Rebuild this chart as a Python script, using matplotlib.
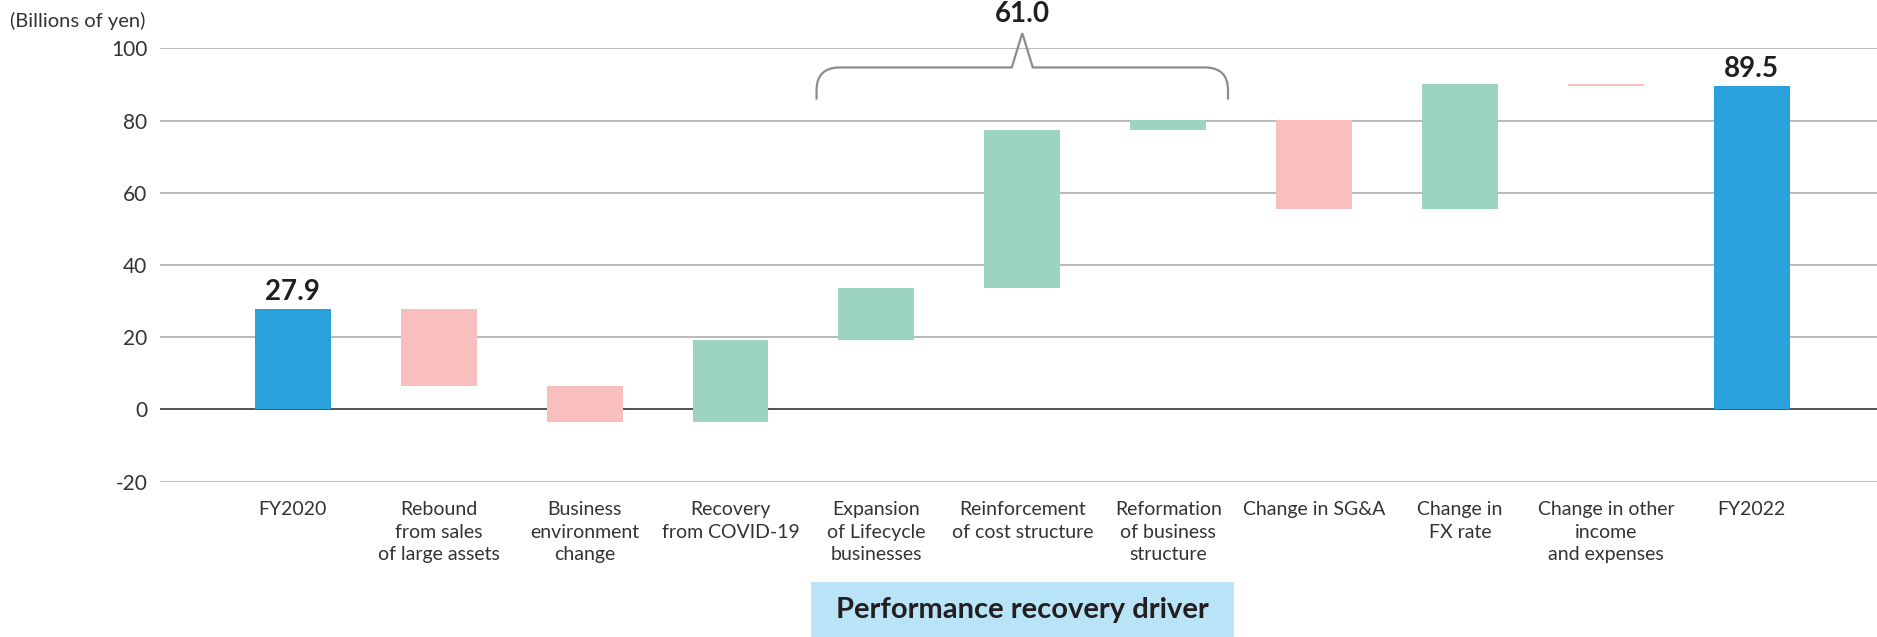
import numpy as np
import matplotlib
matplotlib.use("Agg")
import matplotlib.pyplot as plt
from matplotlib.path import Path
from matplotlib.patches import PathPatch, Rectangle
import matplotlib.transforms as mtransforms

plt.rcParams['font.family'] = ['Lato', 'DejaVu Sans']

# data (billions of yen)
categories = ["FY2020", "Rebound\nfrom sales\nof large assets", "Business\nenvironment\nchange",
              "Recovery\nfrom COVID-19", "Expansion\nof Lifecycle\nbusinesses",
              "Reinforcement\nof cost structure", "Reformation\nof business\nstructure",
              "Change in SG&A", "Change in\nFX rate", "Change in other\nincome\nand expenses", "FY2022"]
changes = [27.9, -21.3, -10.1, 22.7, 14.3, 44.0, 2.7, -24.7, 34.5, -0.5, 89.5]
is_total = [True, False, False, False, False, False, False, False, False, False, True]
bracket_group = [4, 5, 6]   # "Performance recovery driver" items
y_ticks = [-20, 0, 20, 40, 60, 80, 100]

BLUE = '#29a2dc'
PINK = '#f8bfbe'
GREEN = '#9bd5c1'
TXT = '#231f20'

fig = plt.figure(figsize=(18.77, 6.37), dpi=100)
ax = fig.add_axes([160 / 1877, 1 - 481.7 / 637, 1 - 160 / 1877, (481.7 - 48.3) / 637])

x = np.arange(len(categories))
bottoms, heights, colors = [], [], []
level = 0.0
for c, tot in zip(changes, is_total):
    if tot:
        bottoms.append(0)
        heights.append(c)
        colors.append(BLUE)
        level = c
    else:
        bottoms.append(level if c > 0 else level + c)
        heights.append(abs(c))
        colors.append(GREEN if c > 0 else PINK)
        level += c

ax.bar(x, heights, bottom=bottoms, width=0.52, color=colors, zorder=3)

# totals labels
for i, (c, tot) in enumerate(zip(changes, is_total)):
    if tot:
        ax.annotate(f"{c:.1f}", (i, c), xytext=(0, 3), textcoords='offset points',
                    ha='center', va='bottom', fontsize=20, fontweight='bold', color=TXT)

# grid lines
for t in y_ticks:
    ax.axhline(t, color='#444444' if t == 0 else '#b4b4b4', lw=1.3, zorder=1)

ax.set_xlim(-0.91, 10.858)
ax.set_ylim(-20, 100)
ax.set_yticks(y_ticks)
ax.set_yticklabels([str(t) for t in y_ticks], fontsize=15, color='#333333')
ax.set_xticks(x)
ax.set_xticklabels(categories, fontsize=14, color='#333333', linespacing=1.4, va='top')
ax.tick_params(axis='y', length=0, pad=9)
ax.tick_params(axis='x', length=0, pad=14)
for s in ax.spines.values():
    s.set_visible(False)

fig.text(10 / 1877, 1 - 21 / 637, "(Billions of yen)", fontsize=14.5, color='#333333', va='center')

# bracket over the performance recovery drivers
mid = bracket_group[1]
xl, xr = mid - 1.41, mid + 1.41
yb, yh, yp = 85.8, 94.7, 104.2
rx, ry = 0.16, 6.3
hw = 0.072
verts = [(xl, yb), (xl, yh - ry), (xl, yh), (xl + rx, yh), (mid - hw, yh), (mid, yp),
         (mid + hw, yh), (xr - rx, yh), (xr, yh), (xr, yh - ry), (xr, yb)]
codes = [Path.MOVETO, Path.LINETO, Path.CURVE3, Path.CURVE3, Path.LINETO, Path.LINETO,
         Path.LINETO, Path.LINETO, Path.CURVE3, Path.CURVE3, Path.LINETO]
ax.add_patch(PathPatch(Path(verts, codes), fill=False, edgecolor='#8c8c8c', lw=1.6,
                       clip_on=False, zorder=4))
group_sum = sum(changes[i] for i in bracket_group)
ax.text(mid, 105.8, f"{group_sum:.1f}", ha='center', va='bottom', fontsize=20,
        fontweight='bold', color=TXT, clip_on=False)

# bottom box
trans = mtransforms.blended_transform_factory(ax.transData, fig.transFigure)
ax.add_patch(Rectangle((3.55, 0), 2.9, 1 - 581.7 / 637, transform=trans, facecolor='#b9e3f7',
                       edgecolor='none', clip_on=False))
ax.text(5.0, 1 - 610 / 637, "Performance recovery driver", transform=trans, ha='center',
        va='center', fontsize=21, fontweight='bold', color=TXT)

fig.savefig("out.png", dpi=100)
